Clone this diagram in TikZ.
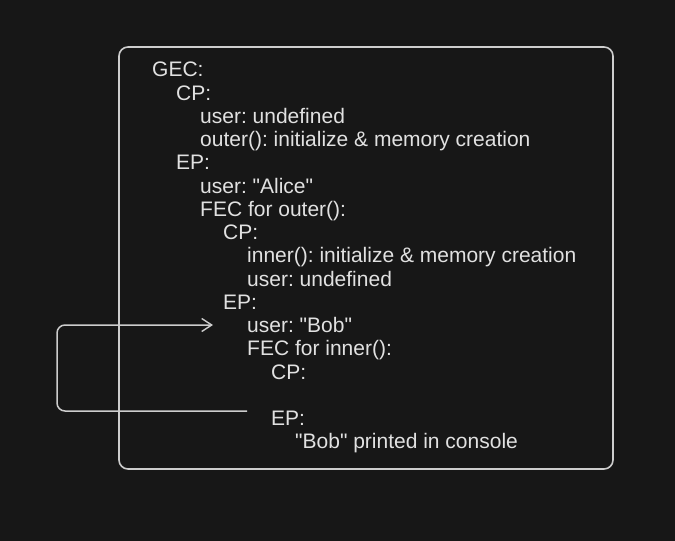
\documentclass[tikz,border=0pt]{standalone}
\usepackage{fontspec}
\setmainfont{Liberation Sans}
\usetikzlibrary{arrows.meta,positioning}
\definecolor{bg}{RGB}{23,23,23}
\definecolor{ink}{RGB}{225,225,225}
\definecolor{edge}{RGB}{205,205,205}
\newcommand{\qq}[1]{\textquotedbl#1\textquotedbl}

\begin{document}
\frenchspacing
\begin{tikzpicture}[
  x=1pt, y=-1pt,
  line/.style={anchor=base west, text=ink, inner sep=0pt, font=\fontsize{21}{23}\selectfont},
  frame/.style={draw=edge, line width=1.6pt, rounded corners=9pt},
  arrow/.style={-{Straight Barb[length=10pt, width=13pt, line width=1.4pt]}, draw=edge, line width=1.5pt, rounded corners=8pt},
]
  \useasboundingbox[fill=bg] (0,0) rectangle (675,541);
  \draw[frame] (119,47) rectangle (613,469);

  % execution context lines
  \node[line] (gec)    at (152, 76.8)  {GEC:};
  \node[line] (cp1)    at (176, 100.0) {CP:};
  \node[line] (user1)  at (200, 123.3) {user: undefined};
  \node[line] (outer1) at (200, 146.5) {outer(): initialize \& memory creation};
  \node[line] (ep1)    at (176, 169.8) {EP:};
  \node[line] (user2)  at (200, 193.0) {user: \qq{Alice}};
  \node[line] (fec1)   at (200, 216.3) {FEC for outer():};
  \node[line] (cp2)    at (223, 239.5) {CP:};
  \node[line] (inner1) at (247, 262.8) {inner(): initialize \& memory creation};
  \node[line] (user3)  at (247, 286.0) {user: undefined};
  \node[line] (ep2)    at (223, 309.3) {EP:};
  \node[line] (user4)  at (247, 332.5) {user: \qq{Bob}};
  \node[line] (fec2)   at (247, 355.8) {FEC for inner():};
  \node[line] (cp3)    at (271, 379.0) {CP:};
  \node[line] (ep3)    at (271, 425.5) {EP:};
  \node[line] (print)  at (295, 448.8) {\qq{Bob} printed in console};

  % scope lookup back to outer
  \coordinate (from) at (247, 411);
  \coordinate (to)   at (213, 325);
  \draw[arrow] (from) -- (57, 411) -- (57, 325) -- (to);
\end{tikzpicture}
\end{document}
